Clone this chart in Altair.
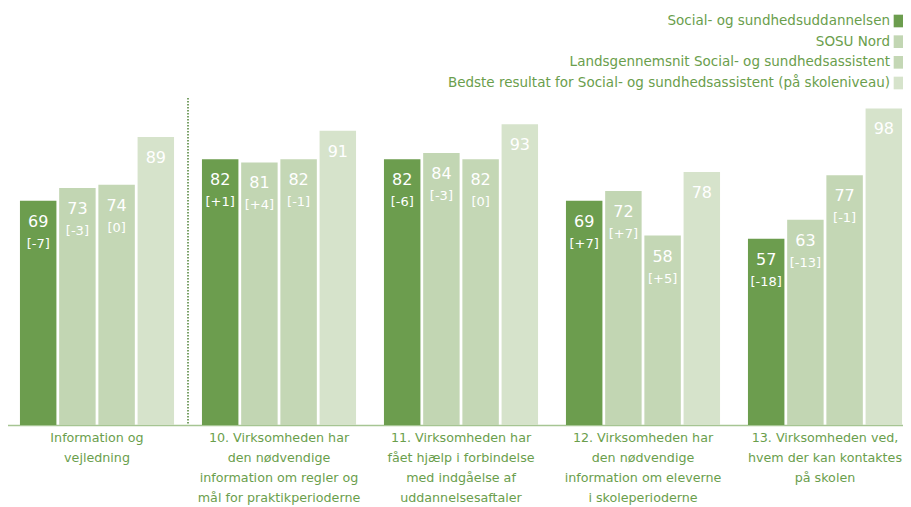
import altair as alt
import pandas as pd

categories = [
    "Information og|vejledning",
    "10. Virksomheden har|den nødvendige|information om regler og|mål for praktikperioderne",
    "11. Virksomheden har|fået hjælp i forbindelse|med indgåelse af|uddannelsesaftaler",
    "12. Virksomheden har|den nødvendige|information om eleverne|i skoleperioderne",
    "13. Virksomheden ved,|hvem der kan kontaktes|på skolen",
]
series = [
    "Social- og sundhedsuddannelsen",
    "SOSU Nord",
    "Landsgennemsnit Social- og sundhedsassistent",
    "Bedste resultat for Social- og sundhedsassistent (på skoleniveau)",
]
colors = ["#6c9d4e", "#c2d6b3", "#c4d7b5", "#d6e3cb"]

values = [
    [69, 73, 74, 89],
    [82, 81, 82, 91],
    [82, 84, 82, 93],
    [69, 72, 58, 78],
    [57, 63, 77, 98],
]
diffs = [
    ["[-7]", "[-3]", "[0]", ""],
    ["[+1]", "[+4]", "[-1]", ""],
    ["[-6]", "[-3]", "[0]", ""],
    ["[+7]", "[+7]", "[+5]", ""],
    ["[-18]", "[-13]", "[-1]", ""],
]

rows = []
for i, c in enumerate(categories):
    for j, s in enumerate(series):
        rows.append({"cat": c, "series": s, "value": values[i][j], "diff": diffs[i][j]})
df = pd.DataFrame(rows)

GREEN_TXT = "#6a9e4c"
FONT = "DejaVu Sans"
W = 895
H = 327
BASE = -1.6
TOP = BASE + H / 3.178

color_enc = alt.Color("series:N", scale=alt.Scale(domain=series, range=colors), legend=None)

xenc = alt.X(
    "cat:N",
    sort=categories,
    scale=alt.Scale(paddingInner=0, paddingOuter=0, range=[-2, 908]),
    axis=alt.Axis(
        title=None,
        labelAngle=0,
        ticks=False,
        labelExpr="split(datum.label, '|')",
        labelLineHeight=20,
        labelFontSize=12.7,
        labelFont=FONT,
        labelColor=GREEN_TXT,
        labelPadding=6,
        labelBaseline="top",
        labelLimit=0,
        domainColor="#a6c593",
        domainWidth=1.5,
        grid=False,
    ),
)
xoff = alt.XOffset(
    "series:N", sort=series, scale=alt.Scale(paddingInner=0.07, paddingOuter=0.356)
)
yenc = alt.Y(
    "value:Q",
    scale=alt.Scale(domain=[BASE, TOP], nice=False, zero=False),
    axis=None,
)

base = alt.Chart(df)
bars = base.mark_bar().encode(
    x=xenc, xOffset=xoff, y=yenc, y2=alt.datum(BASE), color=color_enc
)
nums = base.mark_text(dy=21, baseline="middle", fontSize=16, font=FONT, color="white").encode(
    x=alt.X("cat:N", sort=categories), xOffset=xoff, y=yenc, text="value:Q"
)
brk = base.mark_text(dy=43, baseline="middle", fontSize=13, font=FONT, color="white").encode(
    x=alt.X("cat:N", sort=categories), xOffset=xoff, y=yenc, text="diff:N"
)
sep = alt.Chart(pd.DataFrame({"cat": [categories[1]]})).mark_rule(
    color="#4f8236", strokeWidth=1.5, strokeDash=[1.5, 1.5]
).encode(
    x=alt.X("cat:N", sort=categories, bandPosition=0),
    y=alt.value(0),
    y2=alt.value(H),
)

leg_df = pd.DataFrame({"series": series})
leg_y = alt.Y("series:N", sort=series, axis=None,
              scale=alt.Scale(type="point", range=[-77, -15], padding=0))
leg_text = alt.Chart(leg_df).mark_text(
    align="right", baseline="middle", fontSize=13.5, font=FONT, color=GREEN_TXT
).encode(x=alt.value(882), y=leg_y, text="series:N")
leg_sq = alt.Chart(leg_df).mark_square(size=160, opacity=1).encode(
    x=alt.value(892), y=leg_y, color=color_enc
)
legend = alt.layer(leg_text, leg_sq)

main = alt.layer(bars, sep, nums, brk)

chart = (
    alt.layer(main, legend)
    .resolve_scale(y="independent")
    .properties(
        width=W,
        height=H,
        autosize=alt.AutoSizeParams(type="none"),
        padding={"top": 90, "bottom": 80, "left": 0, "right": 0},
    )
    .configure_view(stroke=None)
)
chart.save("out.html", embed_options={"renderer": "svg", "actions": False})
